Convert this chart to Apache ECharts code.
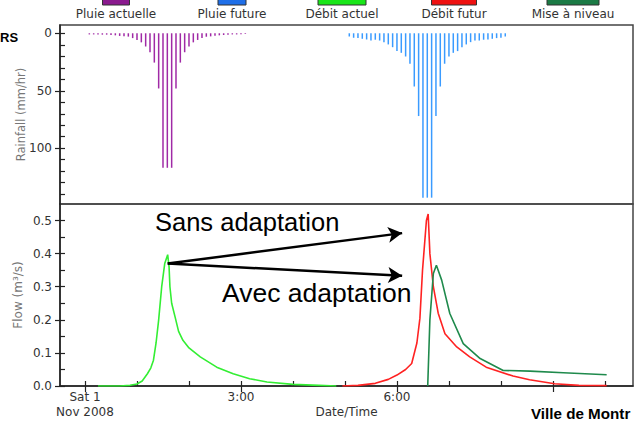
<!DOCTYPE html>
<html><head><meta charset="utf-8">
<script src="https://cdn.jsdelivr.net/npm/echarts@6/dist/echarts.min.js"></script>
<style>html,body{margin:0;padding:0;background:#fff}#c{width:634px;height:433px}</style>
</head><body><div id="c"></div>
<script>
// ---------- data ----------
const legendNames = ['Pluie actuelle', 'Pluie future', 'Débit actuel', 'Débit futur', 'Mise à niveau'];
const legendColors = ['#8a1a8e', '#1f6fe8', '#19e619', '#ee1111', '#1b7a45'];

// rainfall (mm/hr), times in minutes after Sat 1 Nov 2008 0:00
const rainActualMin = [5,10,15,20,25,30,35,40,45,50,55,60,65,70,75,80,85,90,95,100,105,110,115,120,125,130,135,140,145,150,155,160,165,170,175,180,185];
const rainActualVal = [1.0,1.0,1.0,1.2,1.2,1.5,1.8,2.3,2.6,2.9,4.2,5.8,7.9,11.5,16.5,25.5,48,117,117,117,48,25.5,16.5,11.5,7.9,5.8,4.2,3.0,2.7,2.2,1.8,1.5,1.2,1.0,1.0,0.8,0.6];
const rainFutureMin = [305,310,315,320,325,330,335,340,345,350,355,360,365,370,375,380,385,390,395,400,405,410,415,420,425,430,435,440,445,450,455,460,465,470,475,480,485];
const rainFutureVal = [2.8,3.9,4.2,4.8,5.4,6.3,5.6,6.3,7.7,9.7,12.1,15.5,17,20.2,26.5,46.3,72,143,143,143,72,46.3,26.5,20.2,17,15.5,12.1,9.7,7.7,6.3,6.3,5.6,5.4,4.8,4.2,3.9,2.8];

// flow (m3/s)
const flowActualMin = [15,40,52,60,66,72,76,79,82,85,88.5,92,95.4,97,98,100,104,108,113,120,133,152,171,190,210,240,270,290];
const flowActualVal = [0,0,0.002,0.006,0.015,0.037,0.055,0.078,0.13,0.20,0.30,0.37,0.397,0.36,0.30,0.25,0.208,0.165,0.138,0.115,0.088,0.057,0.037,0.022,0.012,0.005,0.002,0];
const flowFutureMin = [297,315,335,350,360,370,377,383,386.5,389.5,394,396,398,402,407.6,415.4,429,444,463,494,513,542,570,602];
const flowFutureVal = [0,0.002,0.008,0.02,0.033,0.05,0.068,0.13,0.205,0.35,0.50,0.52,0.40,0.30,0.22,0.158,0.118,0.088,0.057,0.030,0.019,0.007,0.002,0.001];
const flowUpgradeMin = [395.5,398,402,405.5,411.6,421,436.5,456,482.6,513.5,552,602];
const flowUpgradeVal = [0,0.2,0.34,0.365,0.32,0.219,0.128,0.083,0.047,0.045,0.040,0.034];

// ticks / labels
const xLabelHours = [0, 3, 6];
const xLabelText = ['Sat 1\nNov 2008', '3:00', '6:00'];
const xMajorHours = [0, 3, 6, 9];
const xMinorHours = [0,1,2,3,4,5,6,7,8,9,10];
const rainLabels = [0, 50, 100];
const rainMinor = [0,10,20,30,40,50,60,70,80,90,100,110,120,130,140];
const flowLabels = [0, 0.1, 0.2, 0.3, 0.4, 0.5];
const flowMinor = [0,0.05,0.1,0.15,0.2,0.25,0.3,0.35,0.4,0.45,0.5];

// annotations (data coords: hours, flow)
const arrowStart = [1.59, 0.37];
const arrowEnds = [[6.1, 0.462], [6.1, 0.333]];
const annotTexts = ['Sans adaptation', 'Avec adaptation'];

// ---------- chart ----------
const toH = (mins, vals) => mins.map((m, i) => [m / 60, vals[i]]);
const small = 'DejaVu Sans';
const X_MIN = -0.481, X_MAX = 10.54;

const lblStyle = {color: '#333', fontFamily: small, fontSize: 12};
function xAxisBase(grid) {
  return {type: 'value', gridIndex: grid, min: X_MIN, max: X_MAX, position: 'bottom',
    splitLine: {show: false}, axisLine: {show: false, onZero: false}, axisTick: {show: false}, axisLabel: {show: false}};
}
function yAxisBase(grid, min, max, inverse) {
  return {type: 'value', gridIndex: grid, min: min, max: max, inverse: inverse, position: 'left',
    splitLine: {show: false}, axisLine: {show: false, onZero: false}, axisTick: {show: false}, axisLabel: {show: false}};
}

const xAxes = [
  xAxisBase(0),
  Object.assign(xAxisBase(1), {
    axisLine: {show: true, onZero: false, lineStyle: {color: '#222', width: 1.5}},
    axisTick: {show: true, inside: false, length: 6, customValues: xMajorHours, lineStyle: {color: '#222', width: 1.2}},
    axisLabel: {show: true, customValues: xLabelHours, margin: 3, lineHeight: 15, ...lblStyle,
      formatter: v => { const i = xLabelHours.findIndex(h => Math.abs(h - v) < 1e-6); return i >= 0 ? xLabelText[i] : ''; }},
    name: 'Date/Time', nameLocation: 'middle', nameGap: 20, nameMoveOverlap: false, nameTextStyle: lblStyle
  }),
  Object.assign(xAxisBase(1), {
    axisTick: {show: true, inside: true, length: 5, customValues: xMinorHours, lineStyle: {color: '#222', width: 1.2}}
  })
];

const yAxes = [
  Object.assign(yAxisBase(0, -7.2, 148.5, true), {
    axisLine: {show: true, onZero: false, lineStyle: {color: '#222', width: 1.5}},
    axisTick: {show: true, inside: false, length: 5, customValues: rainLabels, lineStyle: {color: '#222', width: 1.2}},
    axisLabel: {show: true, customValues: rainLabels, margin: 8, ...lblStyle},
    name: 'Rainfall (mm/hr)', nameLocation: 'middle', nameRotate: 90, nameGap: 33, nameMoveOverlap: false,
    nameTextStyle: {color: '#777', fontFamily: small, fontSize: 11.5}
  }),
  Object.assign(yAxisBase(0, -7.2, 148.5, true), {
    axisTick: {show: true, inside: true, length: 5, customValues: rainMinor, lineStyle: {color: '#222', width: 1.2}}
  }),
  Object.assign(yAxisBase(1, 0, 0.55, false), {
    axisLine: {show: true, onZero: false, lineStyle: {color: '#222', width: 1.5}},
    axisTick: {show: true, inside: false, length: 5, customValues: flowLabels, lineStyle: {color: '#222', width: 1.2}},
    axisLabel: {show: true, customValues: flowLabels, margin: 8, ...lblStyle, formatter: v => v.toFixed(1)},
    name: 'Flow (m³/s)', nameLocation: 'middle', nameRotate: 90, nameGap: 36, nameMoveOverlap: false,
    nameTextStyle: {color: '#777', fontFamily: small, fontSize: 12}
  }),
  Object.assign(yAxisBase(1, 0, 0.55, false), {
    axisTick: {show: true, inside: true, length: 5, customValues: flowMinor, lineStyle: {color: '#222', width: 1.2}}
  })
];

function lineSeries(name, data, color, extra) {
  return Object.assign({type: 'line', name: name, xAxisIndex: 1, yAxisIndex: 2, data: data,
    showSymbol: false, symbol: 'none', smooth: false, color: color,
    lineStyle: {color: color, width: 1.6}, emphasis: {disabled: true}, z: 3}, extra || {});
}

// legend graphics
const legendCenters = [116, 232, 342, 454, 573];
const legendWidths = [27, 28, 48, 45, 52];
const graphics = [];
legendNames.forEach((n, i) => {
  graphics.push({type: 'rect', shape: {x: legendCenters[i] - legendWidths[i] / 2, y: -8, width: legendWidths[i], height: 13},
    style: {fill: legendColors[i], stroke: '#333', lineWidth: 1}, silent: true});
  graphics.push({type: 'text', style: {text: n, x: legendCenters[i], y: 14, align: 'center', verticalAlign: 'middle',
    font: '12px "DejaVu Sans"', fill: '#333'}, silent: true});
});
graphics.push({type: 'text', style: {text: annotTexts[0], x: 155, y: 222, verticalAlign: 'middle',
  font: '25.5px "Liberation Sans", Arial', fill: '#000'}, silent: true, z: 10});
graphics.push({type: 'text', style: {text: annotTexts[1], x: 222, y: 293, verticalAlign: 'middle',
  font: '26.5px "Liberation Sans", Arial', fill: '#000'}, silent: true, z: 10});
graphics.push({type: 'text', style: {text: 'RS', x: 0, y: 37, verticalAlign: 'middle',
  font: 'bold 13px "Liberation Sans", Arial', fill: '#000'}, silent: true});
graphics.push({type: 'text', style: {text: 'Ville de Montr', x: 531, y: 413, verticalAlign: 'middle',
  font: 'bold 15.2px "Liberation Sans", Arial', fill: '#000'}, silent: true});

const chart = echarts.init(document.getElementById('c'), null, {renderer: 'svg'});
chart.setOption({
  animation: false,
  backgroundColor: '#fff',
  grid: [
    {left: 60, right: 1, top: 25, height: 179, outerBoundsMode: 'none', containLabel: false,
      show: true, borderColor: '#444', borderWidth: 1.5, backgroundColor: 'transparent'},
    {left: 60, right: 1, top: 204, height: 182, outerBoundsMode: 'none', containLabel: false,
      show: true, borderColor: '#444', borderWidth: 1.5, backgroundColor: 'transparent'}
  ],
  xAxis: xAxes,
  yAxis: yAxes,
  series: [
    {type: 'bar', name: legendNames[0], xAxisIndex: 0, yAxisIndex: 0, data: toH(rainActualMin, rainActualVal),
      barWidth: 1.5, barGap: '-100%', itemStyle: {color: '#a02aa6'}, emphasis: {disabled: true}},
    {type: 'bar', name: legendNames[1], xAxisIndex: 0, yAxisIndex: 0, data: toH(rainFutureMin, rainFutureVal),
      barWidth: 1.5, barGap: '-100%', itemStyle: {color: '#3a9bff'}, emphasis: {disabled: true}},
    lineSeries(legendNames[2], toH(flowActualMin, flowActualVal), '#33ee33', {
      markLine: {silent: true, symbol: ['none', 'arrow'], symbolSize: [12, 14], precision: 4,
        lineStyle: {color: '#000', width: 2.5, type: 'solid'}, label: {show: false}, emphasis: {disabled: true},
        data: arrowEnds.map(e => [{coord: arrowStart}, {coord: e}])}
    }),
    lineSeries(legendNames[3], toH(flowFutureMin, flowFutureVal), '#ff2222'),
    lineSeries(legendNames[4], toH(flowUpgradeMin, flowUpgradeVal), '#1f8a4c')
  ],
  graphic: graphics
});
</script>
</body></html>
